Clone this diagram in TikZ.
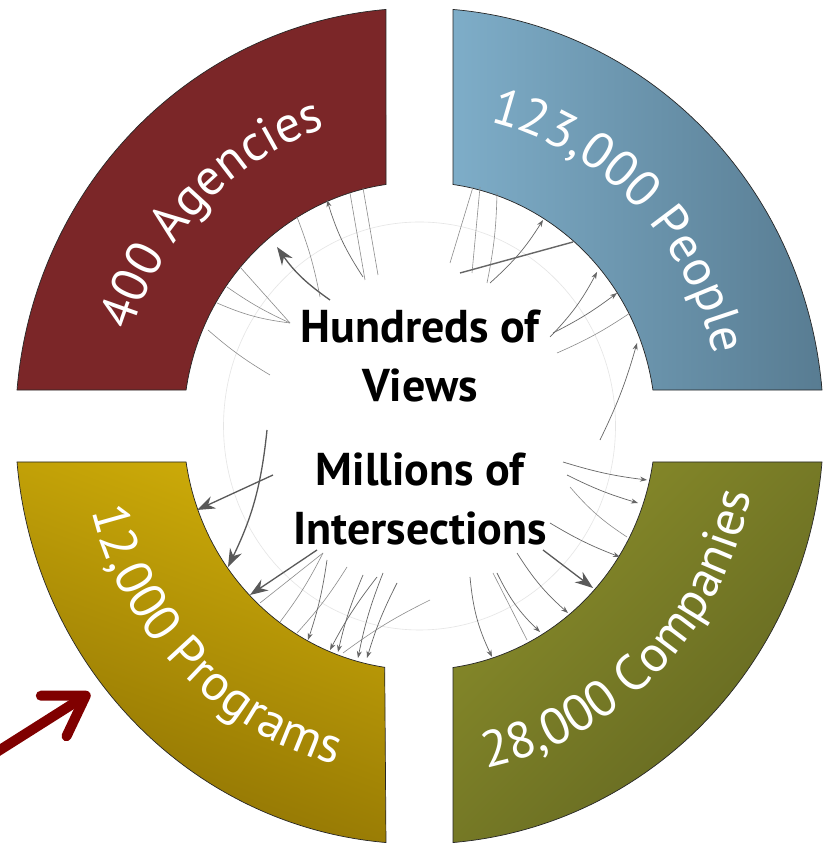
\documentclass[tikz,border=0pt]{standalone}
\usepackage{fontspec}
\setmainfont{PT Sans}
\usepackage{tikz}
\usetikzlibrary{arrows.meta, calc, decorations.text}

\definecolor{agencyRed}{RGB}{123,38,40}
\definecolor{peopleLight}{RGB}{126,173,200}
\definecolor{peopleDark}{RGB}{88,124,146}
\definecolor{programLight}{RGB}{206,172,8}
\definecolor{programDark}{RGB}{142,114,4}
\definecolor{companyLight}{RGB}{137,140,42}
\definecolor{companyDark}{RGB}{98,102,33}
\definecolor{pointerRed}{RGB}{128,0,0}

\tikzstyle{segment} = [draw=black!85, line width=0.7pt]
\tikzstyle{chord} = [draw=black!60, line width=0.7pt, -{Stealth[length=7pt, width=5pt]}]
\tikzstyle{bigchord} = [draw=black!65, line width=1.3pt, -{Stealth[length=18pt, width=13pt]}]
\tikzstyle{strand} = [draw=black!45, line width=0.6pt]

\begin{document}
\begin{tikzpicture}[x=1pt, y=1pt,
    agencies/.style={fill=agencyRed},
    people/.style={left color=peopleLight, right color=peopleDark},
    programs/.style={top color=programLight, bottom color=programDark, shading angle=-20},
    companies/.style={top color=companyLight, bottom color=companyDark, shading angle=45},
    ringlabel/.style={decorate, decoration={text along path, text align=center,
        text color=white, text={|\fontsize{51}{51}\selectfont|#1}}},
    centertext/.style={align=center, font=\fontsize{46}{59}\selectfont\bfseries},
    pointer/.style={draw=pointerRed, line width=10pt, line cap=round,
        -{Straight Barb[length=38pt, width=48pt, round]}}
    ]

    \useasboundingbox (0,0) rectangle (823,843);
    \fill[white] (0,0) rectangle (823,843);
    \coordinate (c) at (419.5,417);

    % faint inner ring
    \draw[black!10, line width=0.6pt] (c) ellipse [x radius=196, y radius=204];

    % the four quarters of the ring
    \foreach \st/\oa/\ob/\ia/\ib in {people/4.94/85.24/8.48/81.84,
        agencies/94.76/175.06/98.16/171.52,
        programs/184.94/265.24/188.48/261.52,
        companies/274.76/355.06/278.16/351.52}
        \path[segment, \st] ($(c)+(\oa:404 and 418)$)
            arc[start angle=\oa, end angle=\ob, x radius=404, y radius=418]
            -- ($(c)+(\ib:236 and 244)$)
            arc[start angle=\ib, end angle=\ia, x radius=236, y radius=244] -- cycle;

    % labels along the ring
    \path[ringlabel={400 Agencies}] ($(c)+(176:302 and 313)$)
        arc[start angle=176, end angle=94, x radius=302, y radius=313];
    \path[ringlabel={123,000 People}] ($(c)+(86:302 and 313)$)
        arc[start angle=86, end angle=4, x radius=302, y radius=313];
    \path[ringlabel={12,000 Programs}] ($(c)+(184:338 and 349)$)
        arc[start angle=184, end angle=266, x radius=338, y radius=349];
    \path[ringlabel={28,000 Companies}] ($(c)+(274:338 and 349)$)
        arc[start angle=274, end angle=356, x radius=338, y radius=349];

    % chords inside the ring
    \foreach \xa/\ya/\xb/\yb/\b in {290/520/240/576/0, 290/520/227/556/5,
        290/520/217/540/8, 270/468/208/513/5, 320/546/297/626/-5,
        365/563/350/650/0, 378/568/363/655/0, 557/490/630/530/-5,
        450/580/473/656/0, 472/570/480/656/0, 487/560/497/650/-5,
        323/290/260/240/0, 323/290/280/221/5, 347/276/297/210/5,
        430/243/343/190/-5, 570/356/627/306/-8, 493/270/527/203/0}
        \draw[strand] (\xa,\ya) to[bend left=\b] (\xb,\yb);
    \draw[strand, line width=1.4pt, black!60] (460,570) -- (573,601);

    \foreach \xa/\ya/\xb/\yb/\b in {363/566/327/643/8, 490/560/543/623/-8,
        550/506/597/571/-8, 553/510/617/550/-5, 600/403/637/500/-5,
        327/283/308/203/5, 377/266/330/193/-5, 363/268/338/191/-5,
        383/270/358/185/-5, 397/260/367/185/-5, 563/381/647/363/-5,
        567/368/638/340/-5, 550/320/620/286/-5, 517/290/568/230/-8,
        497/270/540/211/-10, 470/266/492/186/-10}
        \draw[chord] (\xa,\ya) to[bend left=\b] (\xb,\yb);

    \foreach \xa/\ya/\xb/\yb/\b in {330/543/277/596/10, 267/413/228/276/10,
        317/293/250/248/0, 543/293/593/255/0, 273/368/197/333/0}
        \draw[bigchord] (\xa,\ya) to[bend left=\b] (\xb,\yb);

    % centre text
    \node[centertext] (views) at (420,487) {Hundreds of\\Views};
    \node[centertext] (intersections) at (420,344) {Millions of\\Intersections};

    % pointer to the programs quarter
    \coordinate (pointerTail) at (-8,88);
    \coordinate (pointerTip) at (90,150);
    \draw[pointer] (pointerTail) -- (pointerTip);
\end{tikzpicture}
\end{document}
